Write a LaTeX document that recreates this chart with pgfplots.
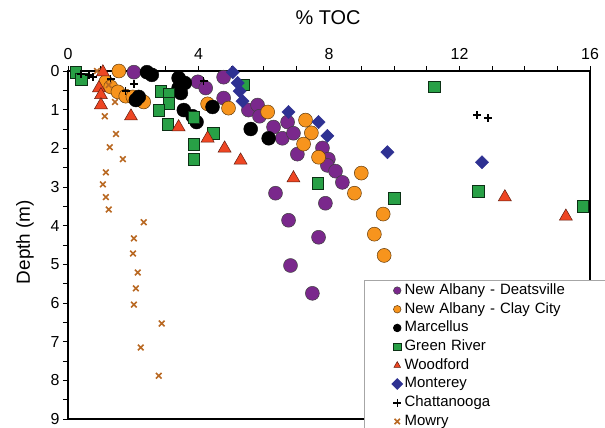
\documentclass[border=0pt]{standalone}
\usepackage{fontspec}
\setmainfont{Liberation Sans}
\usepackage{pgfplots}
\pgfplotsset{compat=1.18}
\definecolor{cpurple}{RGB}{122,40,140}
\definecolor{corange}{RGB}{247,148,29}
\definecolor{cgreen}{RGB}{40,160,70}
\definecolor{cred}{RGB}{238,70,35}
\definecolor{cblue}{RGB}{46,49,146}
\definecolor{cbrown}{RGB}{185,105,35}
\begin{document}
\begin{tikzpicture}
\begin{axis}[
  scale only axis, width=522bp, height=348bp,
  xmin=0, xmax=16, ymin=0, ymax=9, y dir=reverse,
  xtick={0,4,8,12,16},
  minor xtick={1,2,3,5,6,7,9,10,11,13,14,15},
  ytick={0,1,...,9},
  minor ytick={0.5,1.5,...,8.5},
  xtick pos=upper, xticklabel pos=upper, ytick pos=left,
  tick align=outside, major tick length=5bp, minor tick length=5bp,
  tick style={line width=1pt, black},
  axis line style={line width=1.3pt},
  tick label style={font=\fontsize{16}{19}\selectfont},
  xticklabel style={yshift=3bp},
  /pgf/number format/assume math mode=true,
  legend cell align=left,
  legend image post style={mark size=3.8pt},
  legend style={at={(axis description cs:0.568,0.40)}, anchor=north west,
    draw=gray!70, fill=white, line width=0.8pt, inner xsep=27bp, inner ysep=1bp,
    font=\fontsize{15}{18}\selectfont, row sep=0pt,
    nodes={text width=180bp, text height=11bp, text depth=3.5bp, inner ysep=2.1bp}},
]
% New Albany - Deatsville
\addplot[only marks, mark=*, mark size=7pt, mark options={fill=cpurple, draw=black!75, line width=0.5pt}] coordinates {
(2.02,0.03) (3.98,0.28) (4.22,0.44) (4.77,0.16) (4.77,0.70) (5.53,1.01) (5.81,0.88)
(5.87,1.17) (6.30,1.45) (6.57,1.74) (6.73,1.32) (6.91,1.61) (7.03,2.15) (7.80,1.99)
(7.98,2.28) (7.95,2.44) (8.20,2.59) (8.41,2.88) (6.36,3.16) (7.89,3.42) (6.76,3.86)
(7.68,4.30) (6.82,5.03) (7.49,5.75)};
\addlegendentry{New Albany - Deatsville}
% New Albany - Clay City
\addplot[only marks, mark=*, mark size=7pt, mark options={fill=corange, draw=black!60!corange, line width=0.5pt}] coordinates {
(1.56,0.00) (1.16,0.28) (1.31,0.41) (1.53,0.54) (1.77,0.65) (1.99,0.67) (2.32,0.80)
(4.28,0.85) (4.92,0.96) (6.12,1.06) (7.28,1.27) (7.46,1.60) (7.22,1.89) (7.68,2.23)
(8.99,2.64) (8.78,3.16) (9.66,3.70) (9.39,4.22) (9.69,4.77)};
\addlegendentry{New Albany - Clay City}
% Marcellus
\addplot[only marks, mark=*, mark size=7pt, mark options={fill=black, draw=black}] coordinates {
(2.42,0.03) (2.57,0.10) (3.39,0.18) (3.58,0.31) (3.39,0.44) (3.46,0.57) (2.08,0.75)
(2.17,0.67) (3.55,1.01) (3.82,1.17) (3.94,1.32) (4.43,0.93) (5.60,1.50) (6.15,1.74)};
\addlegendentry{Marcellus}
% Green River
\addplot[only marks, mark=square*, mark size=5.8pt, mark options={fill=cgreen, draw=black!70!cgreen, line width=0.5pt}] coordinates {
(0.24,0.03) (0.40,0.21) (2.84,0.52) (3.09,0.60) (3.09,0.83) (2.78,1.01) (3.06,1.37)
(3.85,1.19) (3.85,1.89) (3.85,2.28) (4.46,1.61) (5.38,0.36) (11.22,0.41) (7.65,2.90)
(10.00,3.29) (12.57,3.11) (15.78,3.50)};
\addlegendentry{Green River}
% Woodford
\addplot[only marks, mark=triangle*, mark size=7.5pt, mark options={fill=cred, draw=black!60!cred, line width=0.5pt}] coordinates {
(1.07,0.03) (0.95,0.44) (1.01,0.62) (1.01,0.88) (1.93,1.17) (3.39,1.45) (4.28,1.74)
(4.80,2.00) (5.29,2.31) (6.91,2.77) (13.39,3.26) (15.26,3.76)};
\addlegendentry{Woodford}
% Monterey
\addplot[only marks, mark=square*, mark size=4.7pt, mark options={rotate=45, fill=cblue, draw=cblue}] coordinates {
(5.05,0.03) (5.20,0.31) (5.26,0.52) (5.35,0.78) (6.76,1.06) (7.68,1.32) (7.95,1.68)
(9.79,2.10) (12.69,2.36)};
\addlegendentry{Monterey}
% Chattanooga
\addplot[only marks, mark=+, mark size=3.8pt, mark options={draw=black, line width=1.5pt}] coordinates {
(0.40,0.08) (0.64,0.10) (0.76,0.16) (1.31,0.21) (2.02,0.34) (1.77,0.52) (4.16,0.26)
(4.49,0.93) (12.54,1.14) (12.87,1.22)};
\addlegendentry{Chattanooga}
% Mowry
\addplot[only marks, mark=x, mark size=4pt, mark options={draw=cbrown, line width=1.6pt}] coordinates {
(0.89,0.00) (1.25,0.36) (1.44,0.80) (1.13,1.17) (1.47,1.63) (1.28,1.97) (1.68,2.28)
(1.16,2.62) (1.07,2.93) (1.16,3.26) (1.25,3.58) (2.32,3.91) (2.02,4.33) (1.99,4.72)
(2.14,5.21) (2.08,5.62) (2.02,6.04) (2.87,6.53) (2.23,7.15) (2.78,7.88)};
\addlegendentry{Mowry}
\end{axis}
\node[font=\fontsize{20}{24}\selectfont] at (260bp,401bp) {\% TOC};
\node[font=\fontsize{19}{23}\selectfont, rotate=90] at (-43bp,177bp) {Depth (m)};
\pgfresetboundingbox
\useasboundingbox (-68bp,-9bp) rectangle (537bp,419bp);
\end{tikzpicture}
\end{document}
